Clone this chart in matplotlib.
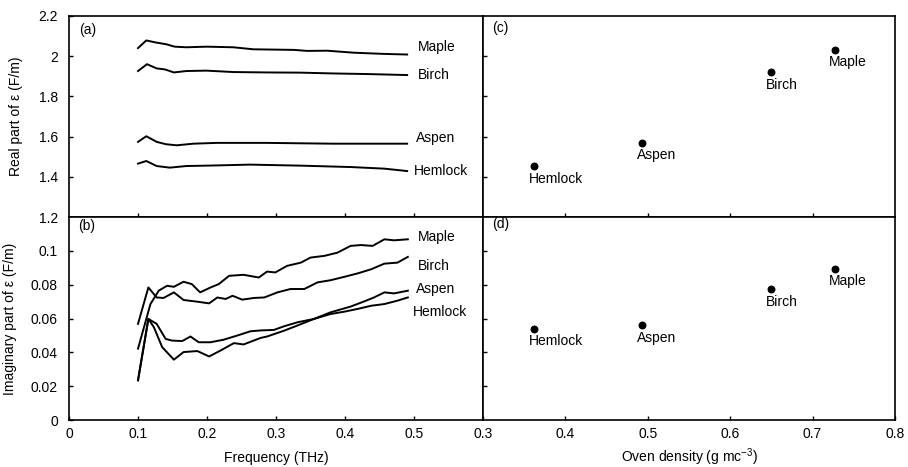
import matplotlib.pyplot as plt
from matplotlib.ticker import FuncFormatter

plt.rcParams['font.family'] = ['Liberation Sans', 'DejaVu Sans']
plt.rcParams['mathtext.fontset'] = 'custom'
plt.rcParams['mathtext.rm'] = 'Liberation Sans'
plt.rcParams['font.size'] = 10

species = ["Maple", "Birch", "Aspen", "Hemlock"]

# (a) real part vs frequency
maple_f_re = [0.100, 0.112, 0.127, 0.141, 0.153, 0.170, 0.200, 0.238, 0.267, 0.326, 0.345, 0.374, 0.413, 0.457, 0.490]
maple_re = [2.040, 2.078, 2.067, 2.059, 2.047, 2.044, 2.047, 2.044, 2.034, 2.031, 2.026, 2.027, 2.017, 2.011, 2.008]
birch_f_re = [0.100, 0.113, 0.127, 0.139, 0.152, 0.170, 0.199, 0.238, 0.286, 0.335, 0.383, 0.432, 0.490]
birch_re = [1.926, 1.960, 1.939, 1.934, 1.919, 1.926, 1.928, 1.921, 1.919, 1.918, 1.914, 1.911, 1.906]
aspen_f_re = [0.100, 0.112, 0.127, 0.141, 0.156, 0.180, 0.214, 0.286, 0.383, 0.490]
aspen_re = [1.574, 1.602, 1.574, 1.562, 1.557, 1.565, 1.569, 1.569, 1.565, 1.565]
hemlock_f_re = [0.100, 0.112, 0.127, 0.146, 0.170, 0.214, 0.262, 0.335, 0.408, 0.457, 0.490]
hemlock_re = [1.466, 1.479, 1.454, 1.446, 1.454, 1.457, 1.461, 1.456, 1.449, 1.441, 1.429]

# (b) imaginary part vs frequency
maple_f_im = [0.100, 0.118, 0.130, 0.142, 0.152, 0.166, 0.178, 0.190, 0.205, 0.217, 0.232, 0.253, 0.275,
              0.287, 0.299, 0.316, 0.336, 0.350, 0.370, 0.389, 0.408, 0.423, 0.440, 0.457, 0.471, 0.491]
maple_im = [0.0422, 0.0686, 0.0765, 0.0794, 0.0788, 0.0818, 0.0804, 0.0755, 0.0784, 0.0804, 0.0853, 0.0859, 0.0843,
            0.0878, 0.0873, 0.0912, 0.0931, 0.0961, 0.0971, 0.0990, 0.1030, 0.1035, 0.1030, 0.1069, 0.1063, 0.1069]
birch_f_im = [0.100, 0.115, 0.127, 0.137, 0.152, 0.166, 0.186, 0.203, 0.215, 0.227, 0.237, 0.251, 0.268, 0.283,
              0.302, 0.321, 0.341, 0.360, 0.379, 0.399, 0.418, 0.438, 0.457, 0.476, 0.491]
birch_im = [0.0569, 0.0784, 0.0725, 0.0722, 0.0755, 0.0710, 0.0700, 0.0690, 0.0725, 0.0716, 0.0735, 0.0712, 0.0722, 0.0725,
            0.0755, 0.0775, 0.0775, 0.0814, 0.0827, 0.0847, 0.0867, 0.0892, 0.0925, 0.0931, 0.0965]
aspen_f_im = [0.100, 0.115, 0.123, 0.135, 0.152, 0.166, 0.186, 0.203, 0.220, 0.239, 0.253, 0.278, 0.287, 0.312,
              0.331, 0.355, 0.379, 0.408, 0.428, 0.442, 0.457, 0.471, 0.491]
aspen_im = [0.0235, 0.0598, 0.0549, 0.0431, 0.0357, 0.0402, 0.0408, 0.0376, 0.0412, 0.0455, 0.0447, 0.0486, 0.0494, 0.0529,
            0.0559, 0.0598, 0.0637, 0.0671, 0.0702, 0.0725, 0.0755, 0.0749, 0.0765]
hemlock_f_im = [0.100, 0.115, 0.127, 0.140, 0.149, 0.164, 0.176, 0.188, 0.205, 0.224, 0.244, 0.263, 0.278, 0.297,
                0.312, 0.331, 0.355, 0.379, 0.399, 0.418, 0.438, 0.457, 0.476, 0.491]
hemlock_im = [0.0235, 0.0598, 0.0569, 0.0480, 0.0470, 0.0467, 0.0494, 0.0460, 0.0460, 0.0475, 0.0500, 0.0525, 0.0530, 0.0533,
              0.0555, 0.0578, 0.0598, 0.0627, 0.0641, 0.0657, 0.0676, 0.0686, 0.0706, 0.0725]

# (c), (d) vs oven density
density = [0.727, 0.650, 0.493, 0.362]
real_at_density = [2.031, 1.920, 1.570, 1.454]
imag_at_density = [0.0895, 0.0775, 0.0561, 0.0541]

fmt = FuncFormatter(lambda v, p: "%g" % round(v, 3))

fig = plt.figure(figsize=(9.08, 4.67), dpi=100)
ax_a = fig.add_axes([0.076, 0.535, 0.456, 0.431])
ax_b = fig.add_axes([0.076, 0.1006, 0.456, 0.4344])
ax_c = fig.add_axes([0.532, 0.535, 0.4537, 0.431])
ax_d = fig.add_axes([0.532, 0.1006, 0.4537, 0.4344])

for ax in (ax_a, ax_b, ax_c, ax_d):
    for s in ax.spines.values():
        s.set_linewidth(1.2)
    ax.tick_params(direction="in", length=3, width=1, labelsize=10)
    ax.tick_params(axis="x", pad=5)
    ax.tick_params(axis="y", pad=8)

line_kw = dict(color="k", lw=1.4)

# --- (a)
ax_a.plot(maple_f_re, maple_re, **line_kw)
ax_a.plot(birch_f_re, birch_re, **line_kw)
ax_a.plot(aspen_f_re, aspen_re, **line_kw)
ax_a.plot(hemlock_f_re, hemlock_re, **line_kw)
ax_a.set_xlim(0, 0.6)
ax_a.set_ylim(1.2, 2.2)
ax_a.set_xticks([0.1, 0.2, 0.3, 0.4, 0.5])
ax_a.set_yticks([1.2, 1.4, 1.6, 1.8, 2.0, 2.2])
ax_a.yaxis.set_major_formatter(fmt)
ax_a.tick_params(axis="x", labelbottom=False)
ax_a.set_ylabel("Real part of ε (F/m)")
ax_a.yaxis.set_label_coords(-0.111, 0.5)
ax_a.text(0.024, 0.93, "(a)", transform=ax_a.transAxes, va="center")
for name, xx, yy in zip(species, [0.505, 0.505, 0.503, 0.500], [2.047, 1.907, 1.592, 1.430]):
    ax_a.text(xx, yy, name, va="center", ha="left")

# --- (b)
ax_b.plot(maple_f_im, maple_im, **line_kw)
ax_b.plot(birch_f_im, birch_im, **line_kw)
ax_b.plot(aspen_f_im, aspen_im, **line_kw)
ax_b.plot(hemlock_f_im, hemlock_im, **line_kw)
ax_b.set_xlim(0, 0.6)
ax_b.set_ylim(0, 0.12)
ax_b.set_xticks([0, 0.1, 0.2, 0.3, 0.4, 0.5])
ax_b.set_yticks([0, 0.02, 0.04, 0.06, 0.08, 0.1])
ax_b.xaxis.set_major_formatter(fmt)
ax_b.yaxis.set_major_formatter(fmt)
ax_b.set_xlabel("Frequency (THz)", labelpad=7)
ax_b.set_ylabel("Imaginary part of ε (F/m)")
ax_b.yaxis.set_label_coords(-0.126, 0.5)
ax_b.text(0.022, 0.955, "(b)", transform=ax_b.transAxes, va="center")
for name, xx, yy in zip(species, [0.505, 0.505, 0.503, 0.499], [0.108, 0.0912, 0.0775, 0.0637]):
    ax_b.text(xx, yy, name, va="center", ha="left")

# --- (c)
ax_c.scatter(density, real_at_density, s=22, color="k", zorder=3)
ax_c.set_xlim(0.3, 0.8)
ax_c.set_ylim(1.2, 2.2)
ax_c.set_xticks([0.4, 0.5, 0.6, 0.7])
ax_c.set_yticks([1.4, 1.6, 1.8, 2.0])
ax_c.tick_params(labelbottom=False, labelleft=False)
ax_c.text(0.021, 0.94, "(c)", transform=ax_c.transAxes, va="center")
for name, xx, yy in zip(species, density, real_at_density):
    ax_c.annotate(name, (xx, yy), xytext=(-4, -4), textcoords="offset points", va="top", ha="left")

# --- (d)
ax_d.scatter(density, imag_at_density, s=22, color="k", zorder=3)
ax_d.set_xlim(0.3, 0.8)
ax_d.set_ylim(0, 0.12)
ax_d.set_xticks([0.3, 0.4, 0.5, 0.6, 0.7, 0.8])
ax_d.set_yticks([0.02, 0.04, 0.06, 0.08, 0.1])
ax_d.xaxis.set_major_formatter(fmt)
ax_d.tick_params(labelleft=False)
ax_d.set_xlabel("Oven density (g mc$^{-3}$)", labelpad=4)
ax_d.text(0.021, 0.965, "(d)", transform=ax_d.transAxes, va="center")
for name, xx, yy in zip(species, density, imag_at_density):
    ax_d.annotate(name, (xx, yy), xytext=(-4, -4), textcoords="offset points", va="top", ha="left")

fig.savefig("out.png", dpi=100)
